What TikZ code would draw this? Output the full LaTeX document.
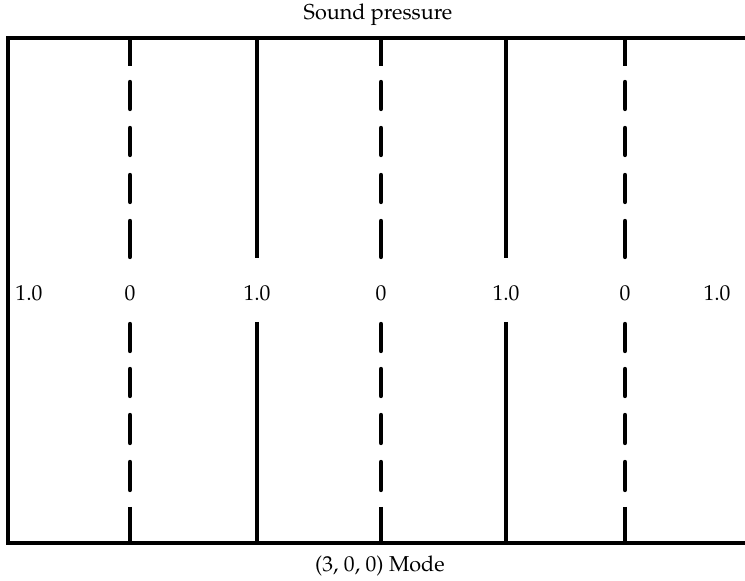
\documentclass[tikz,border=0pt]{standalone}
\usepackage[T1]{fontenc}
\usepackage{mathpazo}
\usetikzlibrary{positioning}

\begin{document}
\begin{tikzpicture}[x=0.5pt,y=-0.5pt,font=\fontsize{10.8}{13}\selectfont,
  wall/.style={line width=2.3pt,line join=miter},
  antinode/.style={line width=2.2pt},
  nodal/.style={line width=2.2pt,line cap=round},
  lbl/.style={anchor=base,inner sep=0pt}]
  \useasboundingbox (0,0) rectangle (745,581);
  % room outline, open on the right
  \draw[wall] (747,38) -- (8,38) -- (8,543) -- (747,543);
  % pressure maxima
  \foreach \x in {257,506} {
    \draw[antinode] (\x,38) -- (\x,258);
    \draw[antinode] (\x,322) -- (\x,543);
  }
  % pressure nodes
  \foreach \x in {130,381,625} {
    \draw[antinode] (\x,38) -- (\x,66);
    \foreach \a/\b in {82/109,128/155,175/202,221/257,324/351,369/396,415/443,462/490}
      \draw[nodal] (\x,\a) -- (\x,\b);
    \draw[antinode] (\x,507) -- (\x,543);
  }
  % values
  \node[lbl] (p1) at (29,301) {1.0};
  \node[lbl] (z1) at (130,301) {0};
  \node[lbl] (p2) at (257,301) {1.0};
  \node[lbl] (z2) at (381,301) {0};
  \node[lbl] (p3) at (506,301) {1.0};
  \node[lbl] (z3) at (625,301) {0};
  \node[lbl] (p4) at (717,301) {1.0};
  \node[lbl] (title) at (378,20) {Sound pressure};
  \node[lbl] (mode) at (380,572) {(3, 0, 0) Mode};
\end{tikzpicture}
\end{document}
